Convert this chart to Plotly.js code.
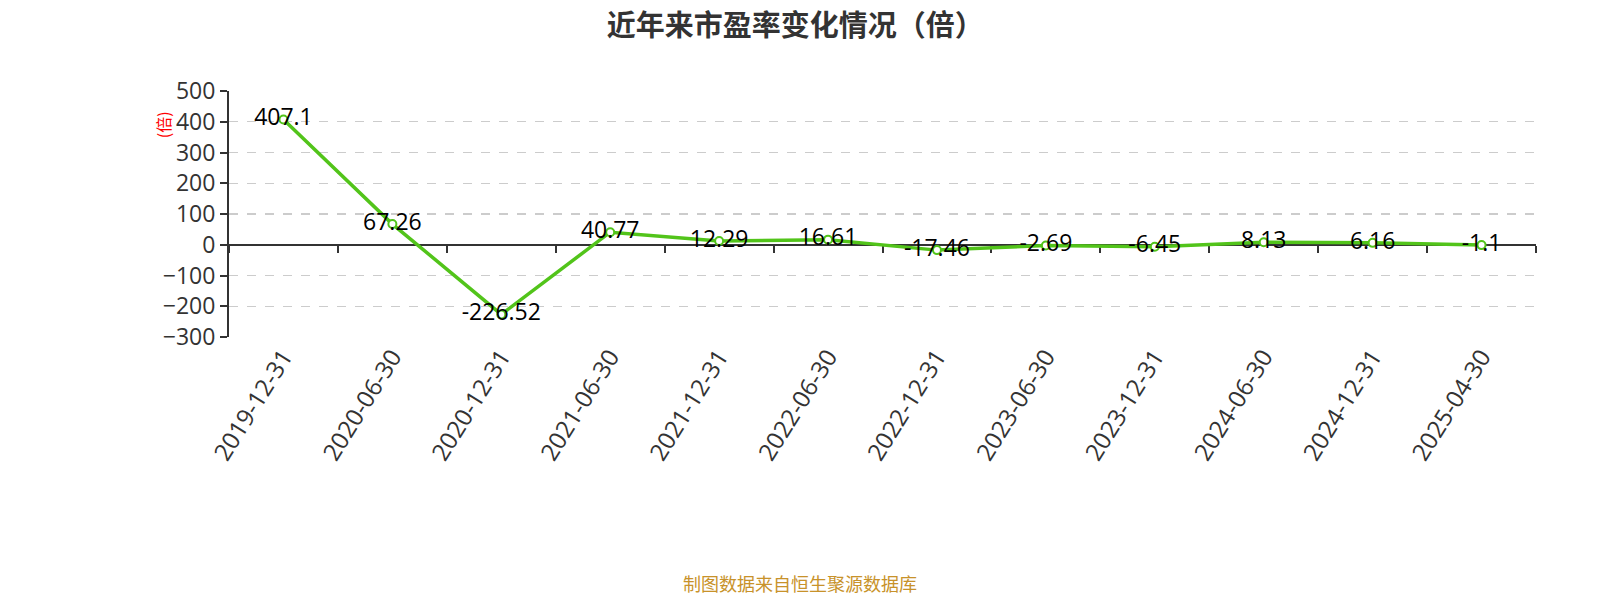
<!DOCTYPE html>
<html><head><meta charset="utf-8">
<script src="https://cdn.plot.ly/plotly-3.0.1.min.js"></script>
<style>html,body{margin:0;padding:0;background:#fff}#c{width:1600px;height:600px}</style>
</head><body><div id="c"></div>
<script>
const categories = ["2019-12-31","2020-06-30","2020-12-31","2021-06-30","2021-12-31","2022-06-30","2022-12-31","2023-06-30","2023-12-31","2024-06-30","2024-12-31","2025-04-30"];
const peValues = [407.1, 67.26, -226.52, 40.77, 12.29, 16.61, -17.46, -2.69, -6.45, 8.13, 6.16, -1.1];
const yTicks = [-300,-200,-100,0,100,200,300,400,500];

const cjk = "'Noto Sans CJK SC', sans-serif";
const num = "'Open Sans', 'Noto Sans CJK SC', sans-serif";
const green = "#52c41a";

const trace = {
  type: "scatter", mode: "lines+markers+text",
  x: categories, y: peValues,
  text: peValues.map(v => String(v)),
  textposition: "middle center",
  textfont: {family: num, size: 23, color: "#000"},
  line: {color: green, width: 3.5},
  marker: {size: 8, color: "#fff", line: {color: green, width: 2}},
  cliponaxis: false, hoverinfo: "skip"
};
// invisible helper trace for the axis drawn at y = 0
const helper = {type: "scatter", mode: "none", x: [-0.5, 11.5], y: [0, 0], xaxis: "x2", hoverinfo: "skip", showlegend: false};

const layout = {
  width: 1600, height: 600,
  margin: {l: 229, r: 64, t: 91, b: 263},
  paper_bgcolor: "#fff", plot_bgcolor: "#fff",
  showlegend: false,
  title: {text: "<b>近年来市盈率变化情况（倍）</b>", x: 0.497, xanchor: "center", y: 0.957, yanchor: "middle",
          font: {family: cjk, size: 29, color: "#333"}},
  xaxis: {type: "category", categoryarray: categories, range: [-0.5, 11.5],
          showline: false, showgrid: false, zeroline: false, ticks: "",
          tickangle: -58, tickfont: {family: num, size: 24, color: "#333"}},
  xaxis2: {overlaying: "x", anchor: "free", position: 0.375, range: [-0.5, 11.5], layer: "below traces",
           showline: true, linecolor: "#333", linewidth: 2, showgrid: false, zeroline: false,
           ticks: "outside", tick0: -0.5, dtick: 1, ticklen: 7, tickwidth: 2, tickcolor: "#333",
           showticklabels: false},
  yaxis: {range: [-300, 500], tickvals: yTicks, showline: true, linecolor: "#333", linewidth: 2,
          ticks: "outside", ticklen: 7, tickwidth: 2, tickcolor: "#333",
          showgrid: true, gridcolor: "#ccc", griddash: "dash", gridwidth: 1.3, zeroline: false,
          tickfont: {family: num, size: 23, color: "#333"}},
  annotations: [
    {text: "(倍)", xref: "paper", yref: "paper", x: -0.0505, y: 0.865, xanchor: "center", yanchor: "middle",
     textangle: -90, showarrow: false, font: {family: cjk, size: 16, color: "#ff0000"}},
    {text: "制图数据来自恒生聚源数据库", xref: "paper", yref: "paper", x: 0.437, y: -1.0, yanchor: "middle", showarrow: false,
     font: {family: cjk, size: 18, color: "#c8922a"}}
  ]
};
Plotly.newPlot("c", [helper, trace], layout, {displayModeBar: false, staticPlot: true});
</script></body></html>
